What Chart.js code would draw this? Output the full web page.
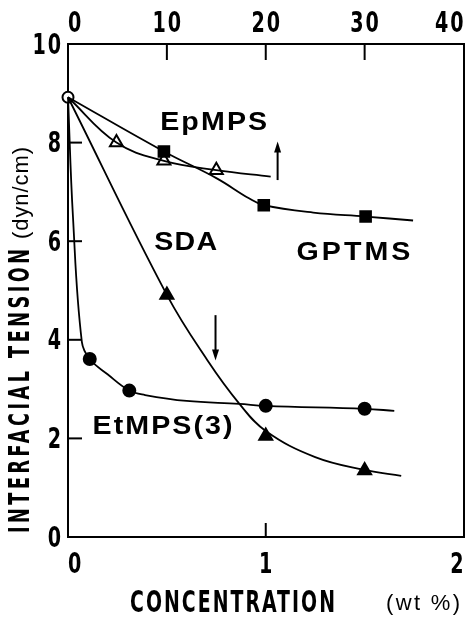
<!DOCTYPE html>
<html>
<head>
<meta charset="utf-8">
<script src="https://cdn.jsdelivr.net/npm/chart.js@4.4.1/dist/chart.umd.min.js"></script>
<style>
  body { margin: 0; background: #fff; }
  canvas { display: block; }
</style>
</head>
<body>
<canvas id="chart" width="473" height="617"></canvas>
<script>
// values (EpMPS and GPTMS are on the top axis)
const startX = [0];
const startY = [8.92];

const etmpsX = [0.11, 0.31, 1.0, 1.5];
const etmpsY = [3.61, 2.97, 2.66, 2.60];
const sdaX = [0.5, 1.0, 1.5];
const sdaY = [4.91, 2.05, 1.35];
const epmpsX = [4.9, 9.7, 15.0];
const epmpsY = [8.0, 7.63, 7.44];
const gptmsX = [9.7, 19.8, 30.1];
const gptmsY = [7.82, 6.73, 6.50];

// the drawn fit curves, traced point by point
const etmpsCurveX = [0, 0.025, 0.07, 0.11, 0.2, 0.31, 0.39, 0.6, 0.865, 1.0, 1.5, 1.65];
const etmpsCurveY = [8.92, 6.5, 3.96, 3.61, 3.3, 2.97, 2.88, 2.76, 2.70, 2.66, 2.60, 2.56];
const sdaCurveX = [0, 0.5, 0.704, 0.867, 1.0, 1.25, 1.5, 1.685];
const sdaCurveY = [8.92, 4.91, 3.59, 2.70, 2.15, 1.62, 1.36, 1.24];
const epmpsCurveX = [0, 4.9, 9.7, 15.0, 20.5];
const epmpsCurveY = [8.92, 8.0, 7.63, 7.44, 7.31];
const gptmsCurveX = [0, 9.7, 15.0, 18.3, 19.8, 24.8, 30.1, 34.9];
const gptmsCurveY = [8.92, 7.82, 7.28, 6.87, 6.73, 6.58, 6.5, 6.42];

const yTicks = [0, 2, 4, 6, 8, 10];
const xTicks = [0, 1, 2];
const topTicks = [0, 10, 20, 30, 40];

// text labels inside the plot: [text, left x, centre y, width in px, axis]
const curveLabels = [
  ['EpMPS', 0.466, 8.41, 107, 'x'],
  ['SDA', 0.436, 5.97, 63, 'x'],
  ['GPTMS', 1.155, 5.76, 114, 'x'],
  ['EtMPS(3)', 0.124, 2.24, 140, 'x']
];
// arrows: [x, from y, to y, axis]
const arrows = [
  [21.2, 7.24, 8.02, 'x2'],
  [0.746, 4.5, 3.58, 'x']
];

const pts = (xs, ys) => xs.map((x, i) => ({ x, y: ys[i] }));

const narrow = "'Liberation Sans Narrow', 'DejaVu Sans Condensed', sans-serif";
const plain = "'Liberation Sans', Arial, sans-serif";

Chart.defaults.color = '#000';

function spacedText(ctx, text, x, y, width, font, sx) {
  ctx.save();
  ctx.translate(x, y);
  ctx.scale(sx, 1);
  ctx.font = font;
  ctx.textAlign = 'left';
  ctx.textBaseline = 'middle';
  ctx.letterSpacing = '0px';
  const natural = ctx.measureText(text).width;
  const gap = text.length > 1 ? (width / sx - natural) / (text.length - 1) : 0;
  ctx.letterSpacing = gap + 'px';
  ctx.fillText(text, 0, 0);
  ctx.restore();
}

// condensed heavy numbers like the original print
function tickText(ctx, text, x, y, align) {
  const sx = 0.66, spacing = 3;
  ctx.save();
  ctx.font = "bold 29px 'DejaVu Sans', sans-serif";
  ctx.letterSpacing = spacing + 'px';
  const w = (ctx.measureText(text).width - spacing) * sx;
  const left = align === 'left' ? x : align === 'right' ? x - w : x - w / 2;
  ctx.translate(left, y);
  ctx.scale(sx, 1);
  ctx.textAlign = 'left';
  ctx.textBaseline = 'middle';
  ctx.fillText(text, 0, 0);
  ctx.restore();
}

const curve = (data, axis) => ({
  data, xAxisID: axis, showLine: true, pointRadius: 0, pointHoverRadius: 0,
  borderColor: '#000', borderWidth: 1.8, tension: 0.4, clip: false
});
const marks = (data, axis, style, fill, radius) => ({
  data, xAxisID: axis, showLine: false, pointStyle: style, pointRadius: radius,
  pointBackgroundColor: fill, pointBorderColor: '#000', pointBorderWidth: 2, clip: false
});

const inwardTicks = {
  id: 'inwardTicks',
  afterDatasetsDraw(chart) {
    const { ctx, chartArea: a, scales } = chart;
    ctx.save();
    ctx.strokeStyle = '#000';
    ctx.lineWidth = 2;
    const mark = (scale, horiz, from, len) => {
      scale.ticks.forEach(t => {
        if (t.value === scale.min || t.value === scale.max) return;
        const p = scale.getPixelForValue(t.value);
        ctx.beginPath();
        if (horiz) { ctx.moveTo(p, from); ctx.lineTo(p, from + len); }
        else { ctx.moveTo(from, p); ctx.lineTo(from + len, p); }
        ctx.stroke();
      });
    };
    mark(scales.x, true, a.bottom, -14);
    mark(scales.x2, true, a.top, 16);
    mark(scales.y, false, a.left, 14);

    // tick labels, first and last kept inside the frame
    ctx.fillStyle = '#000';
    const horizLabels = (scale, y) => {
      const n = scale.ticks.length;
      scale.ticks.forEach((t, i) => {
        const align = i === 0 ? 'left' : i === n - 1 ? 'right' : 'center';
        tickText(ctx, String(t.value), scale.getPixelForValue(t.value), y, align);
      });
    };
    horizLabels(scales.x, a.bottom + 28);
    horizLabels(scales.x2, a.top - 20);
    scales.y.ticks.forEach(t => {
      tickText(ctx, String(t.value), a.left - 7, scales.y.getPixelForValue(t.value) + 2, 'right');
    });
    ctx.restore();
  }
};

const notes = {
  id: 'notes',
  afterDraw(chart) {
    const { ctx, scales } = chart;
    const y = scales.y;
    ctx.save();
    ctx.fillStyle = '#000';
    ctx.strokeStyle = '#000';

    curveLabels.forEach(([text, lx, ly, w, axis]) => {
      spacedText(ctx, text, scales[axis].getPixelForValue(lx), y.getPixelForValue(ly), w,
        'bold 26px ' + plain, 1.1);
    });

    arrows.forEach(([ax, y0, y1, axis]) => {
      const px = scales[axis].getPixelForValue(ax);
      const p0 = y.getPixelForValue(y0);
      const p1 = y.getPixelForValue(y1);
      const dir = Math.sign(p1 - p0);
      ctx.lineWidth = 2;
      ctx.beginPath();
      ctx.moveTo(px, p0);
      ctx.lineTo(px, p1 - dir * 8);
      ctx.stroke();
      ctx.beginPath();
      ctx.moveTo(px, p1);
      ctx.lineTo(px - 3.5, p1 - dir * 11);
      ctx.lineTo(px + 3.5, p1 - dir * 11);
      ctx.closePath();
      ctx.fill();
    });

    // axis titles
    spacedText(ctx, 'CONCENTRATION', 130, 604, 205, 'bold 30px ' + narrow, 0.7);
    spacedText(ctx, '(wt %)', 386, 604, 74, '22px ' + plain, 1);
    ctx.save();
    ctx.translate(22, 533);
    ctx.rotate(-Math.PI / 2);
    spacedText(ctx, 'INTERFACIAL TENSION', 0, 0, 284, 'bold 28px ' + narrow, 0.7);
    spacedText(ctx, '(dyn/cm)', 294, 0, 92, '22px ' + plain, 1);
    ctx.restore();
    ctx.restore();
  }
};

const fixSize = (prop, size) => scale => {
  scale[prop] = size;
  scale.paddingLeft = scale.paddingRight = 0;
  scale.paddingTop = scale.paddingBottom = 0;
};
const border = { display: true, color: '#000', width: 2 };
const grid = { display: false, drawTicks: false };

new Chart(document.getElementById('chart'), {
  type: 'scatter',
  data: {
    datasets: [
      curve(pts(etmpsCurveX, etmpsCurveY), 'x'),
      curve(pts(sdaCurveX, sdaCurveY), 'x'),
      curve(pts(epmpsCurveX, epmpsCurveY), 'x2'),
      curve(pts(gptmsCurveX, gptmsCurveY), 'x2'),
      marks(pts(etmpsX, etmpsY), 'x', 'circle', '#000', 6),
      marks(pts(sdaX, sdaY), 'x', 'triangle', '#000', 7.5),
      marks(pts(gptmsX, gptmsY), 'x2', 'rect', '#000', 7.5),
      marks(pts(epmpsX, epmpsY), 'x2', 'triangle', '#fff', 7.5),
      marks(pts(startX, startY), 'x', 'circle', '#fff', 5.5),
      marks(pts(startX, startY), 'x', 'circle', '#000', 1)
    ]
  },
  options: {
    responsive: false,
    devicePixelRatio: 1,
    animation: false,
    events: [],
    layout: { padding: { right: 7 } },
    plugins: { legend: { display: false }, tooltip: { enabled: false } },
    scales: {
      x: {
        type: 'linear', position: 'bottom', min: 0, max: 2,
        afterBuildTicks: s => { s.ticks = xTicks.map(value => ({ value })); },
        ticks: { display: false }, grid, border,
        afterFit: fixSize('height', 80)
      },
      x2: {
        type: 'linear', position: 'top', min: 0, max: 40,
        afterBuildTicks: s => { s.ticks = topTicks.map(value => ({ value })); },
        ticks: { display: false }, grid, border,
        afterFit: fixSize('height', 44)
      },
      y: {
        type: 'linear', position: 'left', min: 0, max: 10,
        afterBuildTicks: s => { s.ticks = yTicks.map(value => ({ value })); },
        ticks: { display: false }, grid, border,
        afterFit: fixSize('width', 68)
      },
      y2: {
        type: 'linear', position: 'right', min: 0, max: 10,
        ticks: { display: false }, grid, border,
        afterFit: fixSize('width', 0)
      }
    }
  },
  plugins: [inwardTicks, notes]
});
</script>
</body>
</html>
